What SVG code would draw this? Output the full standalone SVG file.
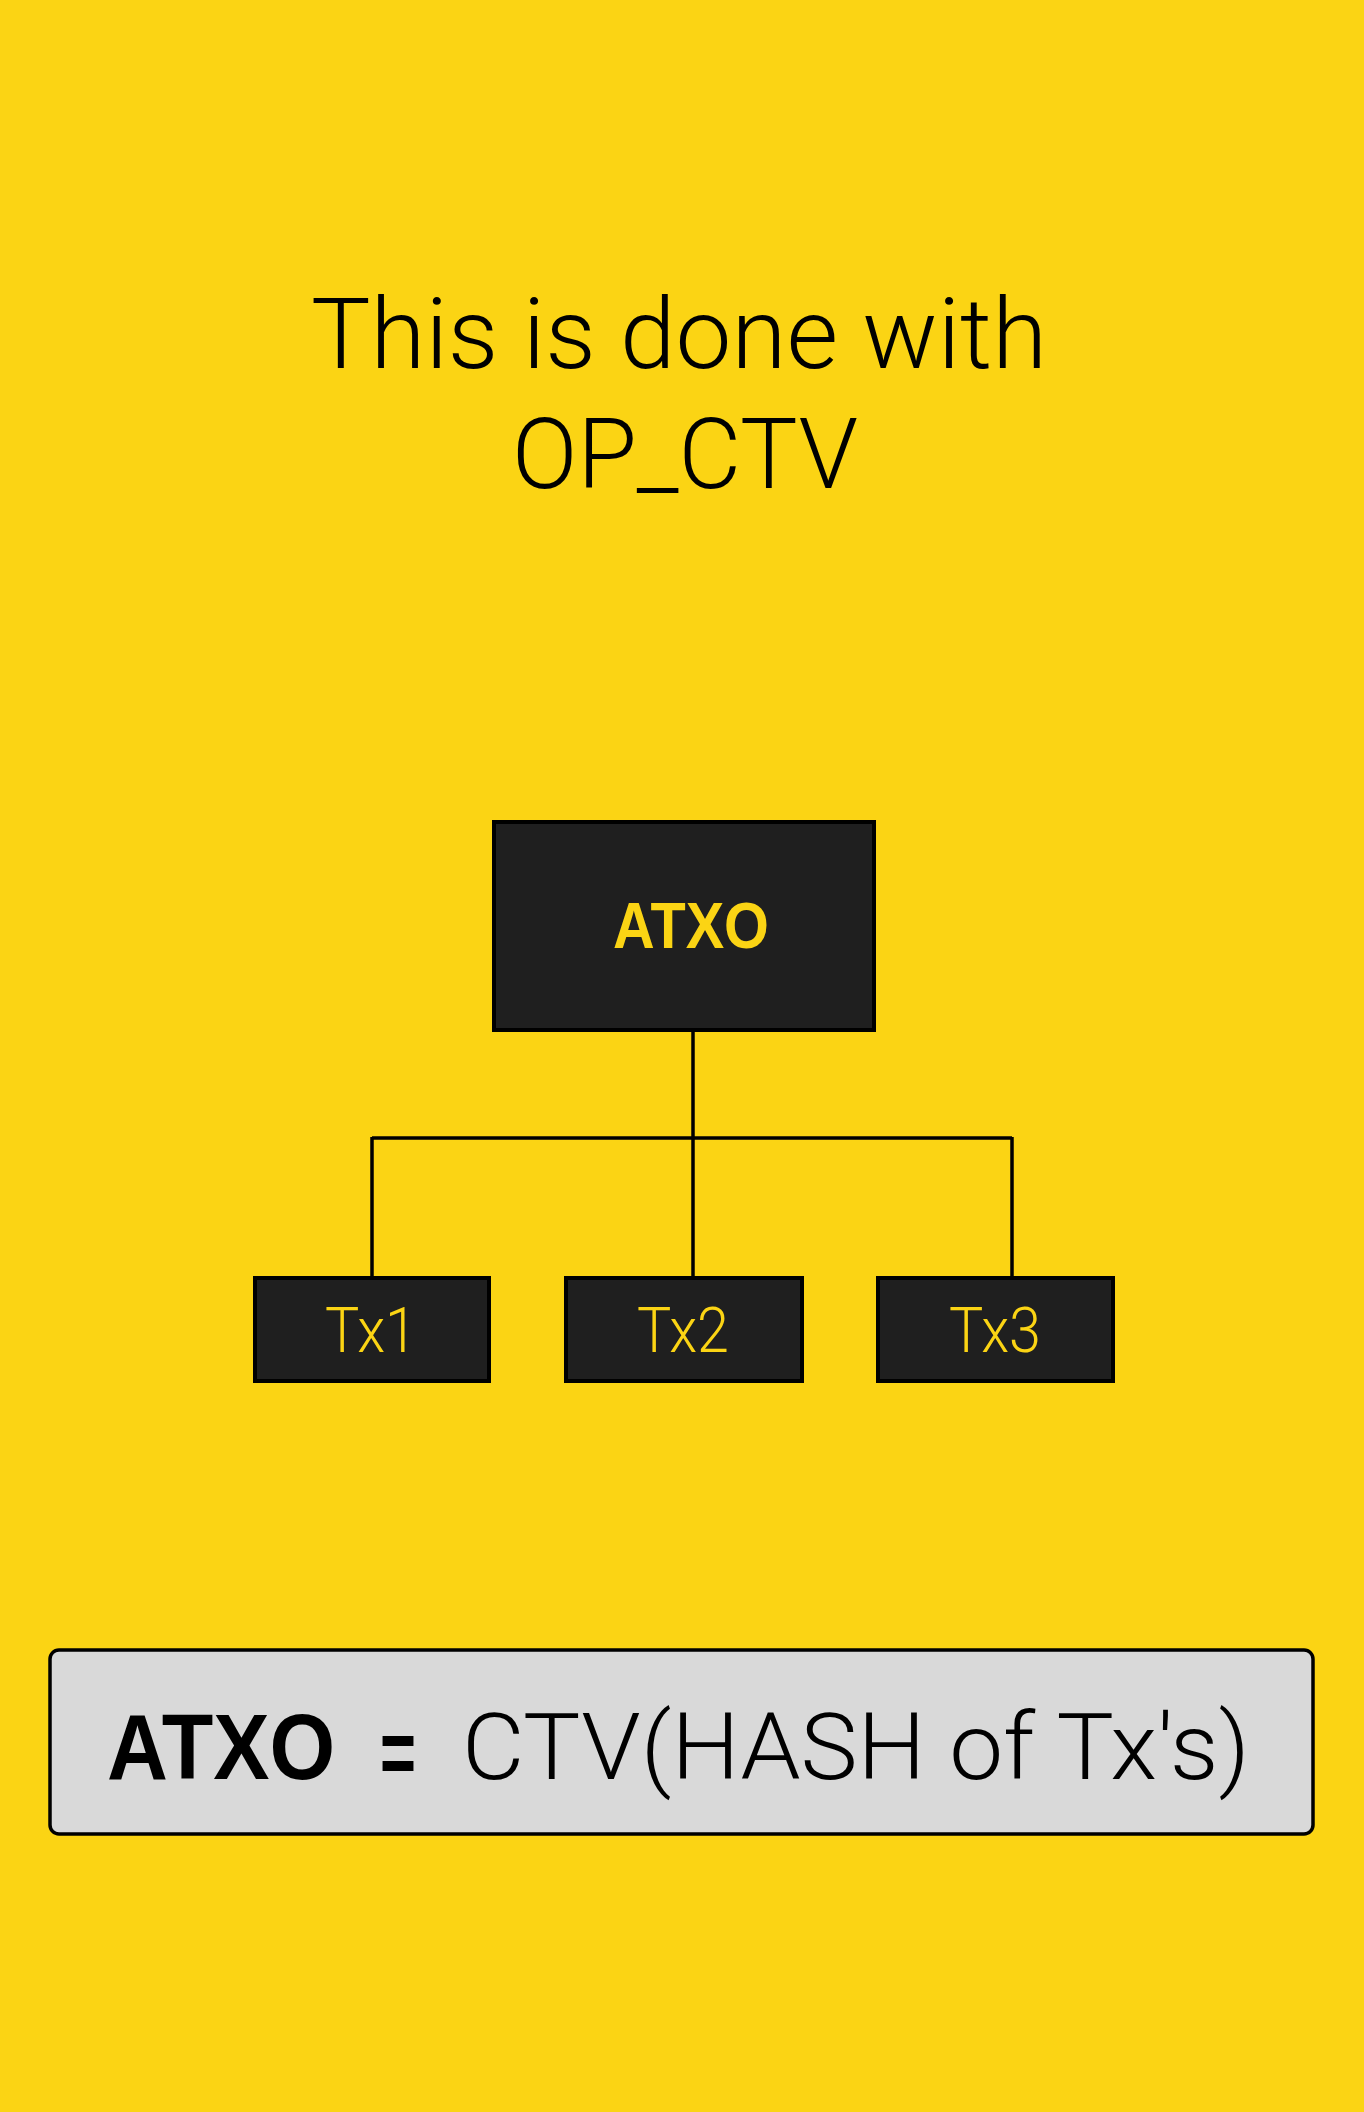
<svg xmlns="http://www.w3.org/2000/svg" width="1364" height="2112" viewBox="0 0 1364 2112">
<style>
.title{font-family:Roboto,"Liberation Sans",sans-serif;font-weight:300;font-size:98px;fill:#000}
.node rect{fill:#1f1f1f;stroke:#000;stroke-width:4}
.lbl{font-family:Roboto,"Liberation Sans",sans-serif;font-weight:300;font-size:63px;fill:#fbd414;text-anchor:middle}
.blbl{font-family:"Liberation Sans",sans-serif;font-weight:bold;font-size:64px;fill:#fbd414;text-anchor:middle}
.conn line{stroke:#000;stroke-width:3.5}
.eq{font-family:"Liberation Sans",sans-serif;font-size:92px;fill:#000}
</style>
<rect width="1364" height="2112" fill="#fbd414"/>
<g id="title">
<text class="title" x="311" y="368" textLength="736" lengthAdjust="spacingAndGlyphs">This is done with</text>
<text class="title" x="512" y="488" textLength="346" lengthAdjust="spacingAndGlyphs">OP_CTV</text>
</g>
<g id="connectors" class="conn">
<line x1="693" y1="1032" x2="693" y2="1276"/>
<line x1="372" y1="1138" x2="1012" y2="1138"/>
<line x1="372" y1="1137" x2="372" y2="1276"/>
<line x1="1012" y1="1137" x2="1012" y2="1276"/>
</g>
<g id="atxo" class="node">
<rect x="494" y="822" width="380" height="208"/>
<text class="blbl" x="691" y="948" textLength="156" lengthAdjust="spacingAndGlyphs">ATXO</text>
</g>
<g id="tx1" class="node">
<rect x="255" y="1278" width="234" height="103"/>
<text class="lbl" x="371" y="1352" textLength="92" lengthAdjust="spacingAndGlyphs">Tx1</text>
</g>
<g id="tx2" class="node">
<rect x="566" y="1278" width="236" height="103"/>
<text class="lbl" x="683" y="1352" textLength="92" lengthAdjust="spacingAndGlyphs">Tx2</text>
</g>
<g id="tx3" class="node">
<rect x="878" y="1278" width="235" height="103"/>
<text class="lbl" x="995" y="1352" textLength="92" lengthAdjust="spacingAndGlyphs">Tx3</text>
</g>
<g id="formula">
<rect x="50" y="1650" width="1263" height="184" rx="9" fill="#d9d9d9" stroke="#000" stroke-width="3.5"/>
<text class="eq" x="107" y="1779"><tspan font-weight="bold" textLength="228" lengthAdjust="spacingAndGlyphs">ATXO</tspan><tspan font-weight="bold" x="380" y="1784" textLength="36" lengthAdjust="spacingAndGlyphs">=</tspan><tspan x="462" y="1779" font-family="Roboto,'Liberation Sans',sans-serif" font-weight="300" textLength="788" lengthAdjust="spacingAndGlyphs">CTV(HASH of Tx's)</tspan></text>
</g>
</svg>
